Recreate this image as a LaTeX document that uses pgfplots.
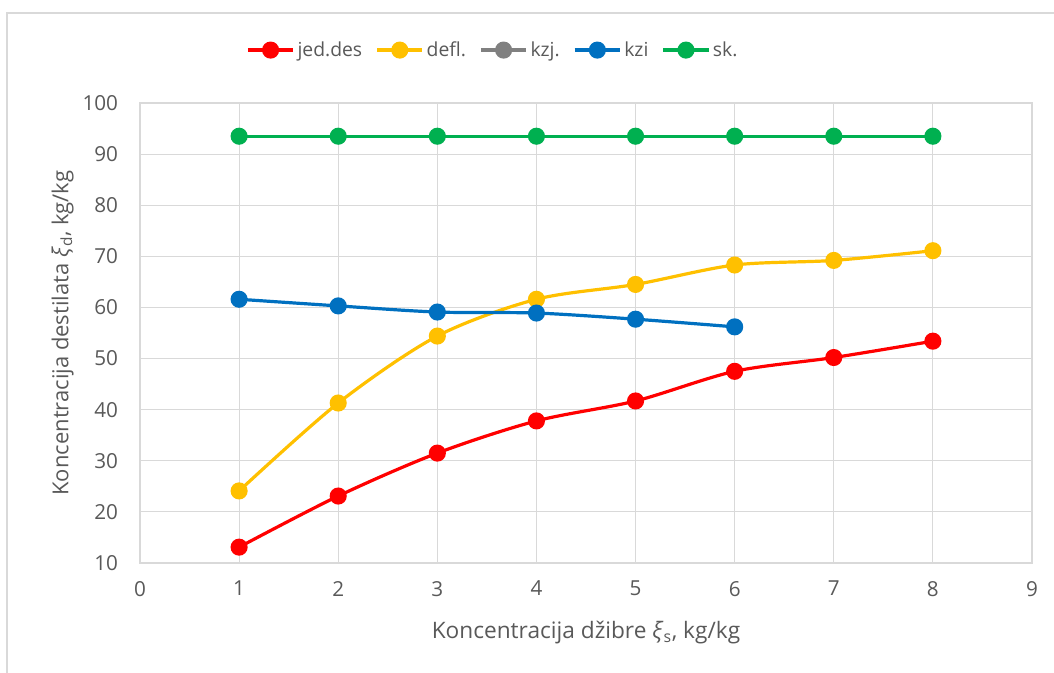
\documentclass[border=0pt]{standalone}
\usepackage{pgfplots}
\pgfplotsset{compat=1.18}
\usepackage{fontspec}
\setmainfont{Open Sans}
\definecolor{txt}{RGB}{89,89,89}
\definecolor{gridc}{RGB}{217,217,217}
\definecolor{cred}{RGB}{255,0,0}
\definecolor{cyel}{RGB}{255,192,0}
\definecolor{cgray}{RGB}{128,128,128}
\definecolor{cblue}{RGB}{0,112,192}
\definecolor{cgreen}{RGB}{0,176,80}
\begin{document}
\begin{tikzpicture}
\path[use as bounding box] (-105pt,-82.5pt) rectangle (685.5pt,422.25pt);
\draw[gridc,line width=1.2pt] (-99.75pt,-82.5pt) -- (-99.75pt,412.5pt) -- (685.5pt,412.5pt);
\begin{axis}[
  at={(0pt,0pt)}, anchor=south west,
  scale only axis, width=669pt, height=345pt,
  xmin=0, xmax=9, ymin=10, ymax=100,
  xtick={0,...,9}, ytick={10,20,...,100},
  grid=major, grid style={gridc, line width=0.9pt},
  axis line style={gridc, line width=0.9pt},
  tick style={draw=none},
  ticklabel style={font=\fontsize{15.5}{18}\selectfont, text=txt},
  /pgf/number format/assume math mode=true,
  xticklabel style={yshift=-10pt},
  yticklabel style={xshift=-13pt},
  xlabel={Koncentracija džibre \textit{ξ}\textsubscript{s}, kg/kg},
  ylabel={Koncentracija destilata \textit{ξ}\textsubscript{d}, kg/kg},
  xlabel style={font=\fontsize{17}{20}\selectfont, text=txt, at={(axis description cs:0.5,0)}, anchor=center, yshift=-52.5pt},
  ylabel style={font=\fontsize{16.5}{20}\selectfont, text=txt, at={(axis description cs:0,0.5)}, anchor=center, yshift=58pt},
  legend columns=5,
  legend style={draw=none, fill=none, at={(0.396,1.115)}, anchor=center,
    font=\fontsize{14.5}{17}\selectfont, text=txt,
    /tikz/every even column/.append style={column sep=8pt}},
  legend image code/.code={\draw[#1, mark=none] plot coordinates {(0pt,0pt) (34pt,0pt)};
     \path[#1] plot coordinates {(17pt,0pt)};},
  every axis plot/.append style={line width=2.4pt, mark=*, mark size=5.2pt, mark options={solid}},
]
\addplot[cred, smooth, mark options={fill=cred, draw=cred}] coordinates {
(1,13.1) (2,23.1) (3,31.5) (4,37.8) (5,41.7) (6,47.5) (7,50.2) (8,53.4)};
\addlegendentry{jed.des}
\addplot[cyel, smooth, mark options={fill=cyel, draw=cyel}] coordinates {
(1,24.1) (2,41.3) (3,54.4) (4,61.6) (5,64.5) (6,68.3) (7,69.2) (8,71.1)};
\addlegendentry{defl.}
\addlegendimage{cgray, line width=2.4pt, mark=*, mark size=5.2pt, mark options={fill=cgray, draw=cgray}}
\addlegendentry{kzj.}
\addplot[cblue, smooth, mark options={fill=cblue, draw=cblue}] coordinates {
(1,61.6) (2,60.3) (3,59.1) (4,58.9) (5,57.7) (6,56.2)};
\addlegendentry{kzi}
\addplot[cgreen, smooth, mark options={fill=cgreen, draw=cgreen}] coordinates {
(1,93.5) (2,93.5) (3,93.5) (4,93.5) (5,93.5) (6,93.5) (7,93.5) (8,93.5)};
\addlegendentry{sk.}
\end{axis}
\end{tikzpicture}
\end{document}
